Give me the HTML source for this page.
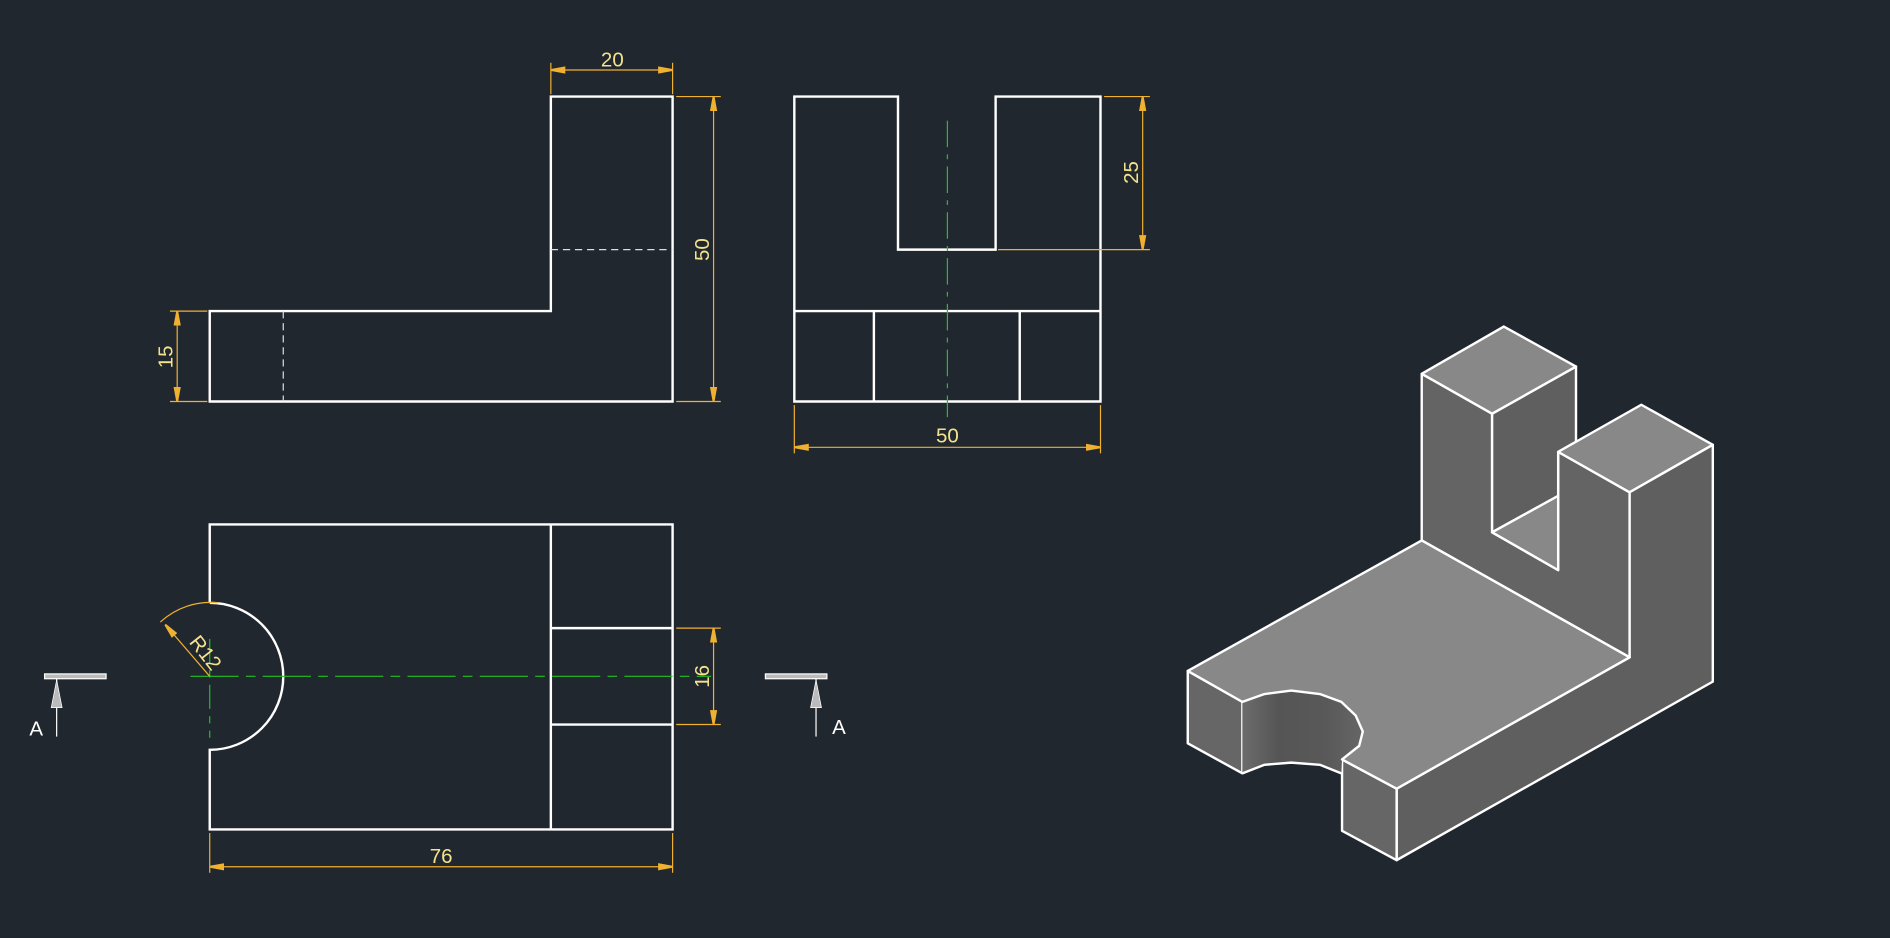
<!DOCTYPE html>
<html><head><meta charset="utf-8"><style>
html,body{margin:0;padding:0;background:#21272f;}
svg{display:block}
text{font-family:"Liberation Sans",sans-serif;fill:#f4e38c;font-size:17px}
</style></head><body>
<svg width="1890" height="938" viewBox="0 0 1568 778" xmlns="http://www.w3.org/2000/svg">
<defs>
<marker id="ar" viewBox="0 0 12 8" refX="12" refY="4" markerWidth="12" markerHeight="8" orient="auto-start-reverse" markerUnits="userSpaceOnUse">
<path d="M0,1 L12,3.2 L12,4.8 L0,7 Z" fill="#f0b030"/></marker>
<linearGradient id="cyl" x1="0" x2="1" y1="0" y2="0">
<stop offset="0" stop-color="#6c6c6c"/><stop offset="0.3" stop-color="#555"/><stop offset="0.7" stop-color="#595959"/><stop offset="1" stop-color="#666"/></linearGradient>
</defs>
<rect width="1568" height="778" fill="#21272f"/>

<!-- Front view -->
<g fill="none" stroke="#fff" stroke-width="2">
<path d="M174,258 L457,258 L457,80 L558,80 L558,333 L174,333 Z"/>
</g>
<g stroke="#ddd" stroke-width="1" stroke-dasharray="6,4" fill="none">
<line x1="235" y1="258" x2="235" y2="333"/>
<line x1="457" y1="207" x2="558" y2="207"/>
</g>
<g stroke="#f0b030" stroke-width="1" fill="none">
<line x1="457" y1="52" x2="457" y2="78"/><line x1="558" y1="52" x2="558" y2="78"/>
<line x1="457" y1="58" x2="558" y2="58" marker-start="url(#ar)" marker-end="url(#ar)"/>
<line x1="561" y1="80" x2="598" y2="80"/><line x1="561" y1="333" x2="598" y2="333"/>
<line x1="592" y1="80" x2="592" y2="333" marker-start="url(#ar)" marker-end="url(#ar)"/>
<line x1="141" y1="258" x2="172" y2="258"/><line x1="141" y1="333" x2="172" y2="333"/>
<line x1="147" y1="258" x2="147" y2="333" marker-start="url(#ar)" marker-end="url(#ar)"/>
</g>
<text x="508" y="55" text-anchor="middle">20</text>
<text transform="translate(588,207) rotate(-90)" text-anchor="middle">50</text>
<text transform="translate(143,296) rotate(-90)" text-anchor="middle">15</text>

<!-- Side view -->
<g fill="none" stroke="#fff" stroke-width="2">
<path d="M659,80 L745,80 L745,207 L826,207 L826,80 L913,80 L913,333 L659,333 Z"/>
<line x1="659" y1="258" x2="913" y2="258"/>
<line x1="725" y1="258" x2="725" y2="333"/>
<line x1="846" y1="258" x2="846" y2="333"/>
</g>
<line x1="786" y1="100" x2="786" y2="346" stroke="#22c022" stroke-width="1" stroke-dasharray="22,6,4,6"/>
<g stroke="#f0b030" stroke-width="1" fill="none">
<line x1="916" y1="80" x2="954" y2="80"/><line x1="828" y1="207" x2="954" y2="207"/>
<line x1="948" y1="80" x2="948" y2="207" marker-start="url(#ar)" marker-end="url(#ar)"/>
<line x1="659" y1="336" x2="659" y2="376"/><line x1="913" y1="336" x2="913" y2="376"/>
<line x1="659" y1="371" x2="913" y2="371" marker-start="url(#ar)" marker-end="url(#ar)"/>
</g>
<text transform="translate(944,143) rotate(-90)" text-anchor="middle">25</text>
<text x="786" y="367" text-anchor="middle">50</text>

<!-- Top view -->
<g fill="none" stroke="#fff" stroke-width="2">
<path d="M174,500 L174,435 L558,435 L558,688 L174,688 L174,622 A61,61 0 0 0 174,500"/>
<line x1="457" y1="435" x2="457" y2="688"/>
<line x1="457" y1="521" x2="558" y2="521"/>
<line x1="457" y1="601" x2="558" y2="601"/>
</g>
<g stroke="#22c022" stroke-width="1" fill="none">
<line x1="158" y1="561" x2="590" y2="561" stroke-dasharray="40,6,8,6"/>
<line x1="174" y1="530" x2="174" y2="612" stroke-dasharray="20,6,6,6"/>
</g>
<g stroke="#f0b030" stroke-width="1" fill="none">
<line x1="561" y1="521" x2="598" y2="521"/><line x1="561" y1="601" x2="598" y2="601"/>
<line x1="592" y1="521" x2="592" y2="601" marker-start="url(#ar)" marker-end="url(#ar)"/>
<line x1="174" y1="691" x2="174" y2="724"/><line x1="558" y1="691" x2="558" y2="724"/>
<line x1="174" y1="719" x2="558" y2="719" marker-start="url(#ar)" marker-end="url(#ar)"/>
<line x1="174" y1="561" x2="137" y2="518" marker-end="url(#ar)"/>
<path d="M133,516 A61,61 0 0 1 181,500"/>
</g>
<text transform="translate(166,545) rotate(52)" text-anchor="middle">R12</text>
<text transform="translate(588,561) rotate(-90)" text-anchor="middle">16</text>
<text x="366" y="716" text-anchor="middle">76</text>

<!-- Section marks -->
<g>
<rect x="37" y="559" width="51" height="4" fill="#bbb" stroke="#fff" stroke-width="1"/>
<line x1="47" y1="563" x2="47" y2="611" stroke="#fff" stroke-width="1"/>
<path d="M47,564 L42.5,587 L51.5,587 Z" fill="#bbb" stroke="#fff" stroke-width="0.6"/>
<text x="30" y="610" text-anchor="middle" style="fill:#fff;font-size:17px">A</text>
<rect x="635" y="559" width="51" height="4" fill="#bbb" stroke="#fff" stroke-width="1"/>
<line x1="677" y1="563" x2="677" y2="611" stroke="#fff" stroke-width="1"/>
<path d="M677,564 L672.5,587 L681.5,587 Z" fill="#bbb" stroke="#fff" stroke-width="0.6"/>
<text x="696" y="609" text-anchor="middle" style="fill:#fff;font-size:17px">A</text>
</g>

<!-- Isometric -->
<g stroke="#fff" stroke-width="2" stroke-linejoin="round">
<polygon fill="#646464" points="1179.5,310 1237.9,343.1 1237.9,441.5 1292.7,472.9 1292.7,374.8 1352,408.3 1352,545.2 1179.5,448.3"/>
<polygon fill="#5f5f5f" points="1237.9,343.1 1307.5,304 1307.5,366.4 1292.7,374.8 1292.7,411.3 1237.9,441.5"/>
<polygon fill="#888" points="1237.9,441.5 1292.7,411.3 1292.7,472.9"/>
<polygon fill="#888" points="1179.5,310 1247.6,270.8 1307.5,304 1237.9,343.1"/>
<polygon fill="#888" points="1292.7,374.8 1361.7,335.7 1421,368.9 1352,408.3"/>
<polygon fill="#5f5f5f" points="1352,408.3 1421,368.9 1421,565.4 1158.7,713.5 1158.7,654.2 1352,545.2"/>
<polygon fill="#666" points="985.4,556.5 1030.7,582.2 1030.7,641.5 985.4,616.6"/>
<polygon fill="#666" points="1113.4,630 1158.7,654.2 1158.7,713.5 1113.4,689.2"/>
<path fill="url(#cyl)" stroke="none" d="M1030.7,582.2 L1049.1,575.7 L1071.3,572.8 L1095,575.7 L1112.8,582.2 L1124.7,593.5 L1130.6,606.8 L1127.6,618.7 L1113.4,630 L1112.8,641.5 L1095,634.4 L1071.3,632.6 L1049.1,634.4 L1030.7,641.5 Z"/>
<path fill="none" d="M1030.7,641.5 L1049.1,634.4 L1071.3,632.6 L1095,634.4 L1112.8,641.5"/>
<path fill="#888" d="M1179.5,448.3 L985.4,556.5 L1030.7,582.2 L1049.1,575.7 L1071.3,572.8 L1095,575.7 L1112.8,582.2 L1124.7,593.5 L1130.6,606.8 L1127.6,618.7 L1113.4,630 L1158.7,654.2 L1352,545.2 Z"/>
<line x1="1179.5" y1="448.3" x2="1352" y2="545.2" stroke-width="1"/>
</g>
</svg>
</body></html>
